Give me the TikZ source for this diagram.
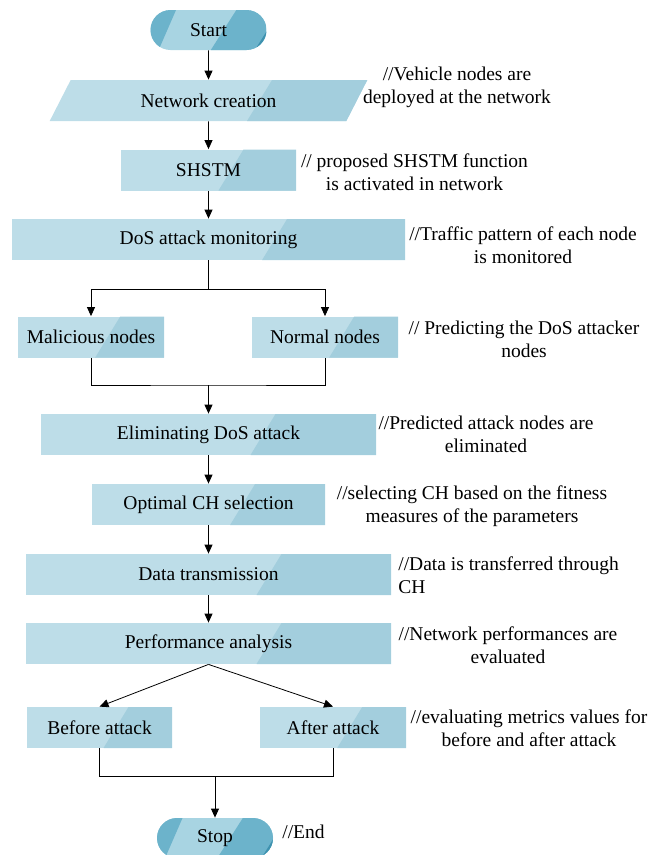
\documentclass[tikz,border=0pt]{standalone}
\usepackage{fontspec}
\setmainfont{Liberation Serif}
\usetikzlibrary{shapes.geometric,arrows.meta,calc}
\definecolor{boxlight}{HTML}{BDDDE8}
\definecolor{boxdark}{HTML}{A3CEDD}
\definecolor{termlight}{HTML}{A8D4E2}
\definecolor{termdark}{HTML}{6CB3CB}
\definecolor{termdeep}{HTML}{3E92AF}

\begin{document}
\begin{tikzpicture}[x=1pt, y=-1pt, node distance=70pt, line width=0.8pt,
    >={Triangle[length=9pt,width=8pt]},
    every node/.style={font=\rmfamily\fontsize{19.5}{23}\selectfont},
    box/.style={rectangle, fill=boxlight, inner sep=0pt,
        minimum width=#1, minimum height=41pt,
        path picture={\fill[boxdark] let \p1=(path picture bounding box.south west),
            \p2=(path picture bounding box.north east), \n1={0.3*(\x2-\x1)} in
            ({\x2-\n1},\y2) -- (\x2,\y2) -- (\x2,\y1) -- ({\x2-\n1-25},\y1) -- cycle;}},
    term/.style={rectangle, rounded corners=20pt, fill=termlight, inner sep=0pt,
        minimum width=116pt, minimum height=40pt,
        path picture={
            \fill[termdark, sharp corners] let \p1=(path picture bounding box.south west),
                \p2=(path picture bounding box.north east), \n1={\x2-\x1} in
                (\x1,\y2) -- ({\x1+0.22*\n1},\y2) -- ({\x1+0.07*\n1},\y1) -- (\x1,\y1) -- cycle;
            \fill[termdark, sharp corners] let \p1=(path picture bounding box.south west),
                \p2=(path picture bounding box.north east), \n1={\x2-\x1} in
                ({\x1+0.74*\n1},\y2) -- (\x2,\y2) -- (\x2,\y1) -- ({\x1+0.52*\n1},\y1) -- cycle;
            \fill[termdeep, sharp corners] let \p1=(path picture bounding box.south west),
                \p2=(path picture bounding box.north east), \n1={\x2-\x1} in
                ({\x1+0.9*\n1},\y1) -- ({\x2+30},\y1) -- ({\x2+30},\y2) -- ({\x1+0.9*\n1+25},\y2) -- cycle;}},
    note/.style={align=center, inner sep=0pt}]
    \useasboundingbox (0,0) rectangle (649,855);

    \node[term] (start) at (208.5,30) {Start};
    \node[box=318pt, trapezium, trapezium left angle=53, trapezium right angle=127,
        trapezium stretches=true, node distance=70.5pt, below of=start] (net) {Network creation};
    \node[box=175pt, node distance=69.5pt, below of=net] (shstm) {SHSTM};
    \node[box=393pt, node distance=69.5pt, below of=shstm] (dos) {DoS attack monitoring};
    \node[box=146pt, node distance=97.5pt, below of=dos, xshift=-117.5pt] (mal) {Malicious nodes};
    \node[box=146pt, node distance=97.5pt, below of=dos, xshift=116.5pt] (norm) {Normal nodes};
    \node[box=335pt, node distance=195pt, below of=dos] (elim) {Eliminating DoS attack};
    \node[box=233pt, below of=elim] (opt) {Optimal CH selection};
    \node[box=365pt, below of=opt] (data) {Data transmission};
    \node[box=365pt, node distance=69pt, below of=data] (perf) {Performance analysis};
    \node[box=145pt, node distance=84pt, below of=perf, xshift=-109pt] (before) {Before attack};
    \node[box=146pt, node distance=84pt, below of=perf, xshift=124.5pt] (after) {After attack};
    \node[term, node distance=194.5pt, below of=perf, xshift=6.5pt] (stop) {Stop};
    \coordinate[node distance=49.5pt, above of=elim] (join1);
    \coordinate[node distance=62pt, above of=stop] (join2);

    \draw[->] (start) -- (net);
    \draw[->] (net) -- (shstm);
    \draw[->] (shstm) -- (dos);
    \draw[->] (dos.south) -- ++(0,-28.5pt) -| (mal.north);
    \draw[->] (dos.south) -- ++(0,-28.5pt) -| (norm.north);
    \draw (mal.south) |- (join1) -| (norm.south);
    \draw[->] (join1) -- (elim);
    \draw[->] (elim) -- (opt);
    \draw[->] (opt) -- (data);
    \draw[->] (data) -- (perf);
    \draw[->] (perf.south) -- (before.north);
    \draw[->] (perf.south) -- (after.north);
    \draw (before.south) |- (join2) -| (after.south);
    \draw[->] (join2) -- (stop);

    % comments beside the steps
    \node[note] (nnet) at (457,87.5) {//Vehicle nodes are\\deployed at the network};
    \node[note] (nshstm) at (414.5,172.5) {// proposed SHSTM function\\is activated in network};
    \node[note] (ndos) at (523,245.5) {//Traffic pattern of each node\\is monitored};
    \node[note] (npred) at (524,339) {// Predicting the DoS attacker\\nodes};
    \node[note] (nelim) at (486,434) {//Predicted attack nodes are\\eliminated};
    \node[note] (nopt) at (472,506.5) {//selecting CH based on the fitness\\measures of the parameters};
    \node[note, anchor=west, align=left] (ndata) at (398,575.5) {//Data is transferred through\\CH};
    \node[note] (nperf) at (508,645.5) {//Network performances are\\evaluated};
    \node[note] (neval) at (529,728) {//evaluating metrics values for\\before and after attack};
    \node[note, anchor=west] (nend) at (282,832) {//End};
\end{tikzpicture}
\end{document}
